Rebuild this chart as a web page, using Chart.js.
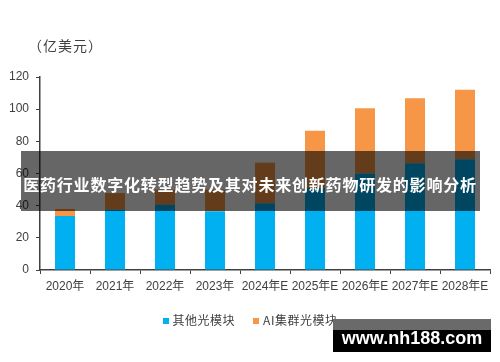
<!DOCTYPE html>
<html>
<head>
<meta charset="utf-8">
<script src="https://cdn.jsdelivr.net/npm/chart.js@4/dist/chart.umd.min.js"></script>
<style>
  html, body { margin: 0; padding: 0; background: #fff; }
  #wrap { position: relative; width: 500px; height: 362px; overflow: hidden; }
  canvas { position: absolute; left: 0; top: 0; }
  .unit { position: absolute; left: 28px; top: 35px; font: 14px "Noto Sans CJK SC", sans-serif; color: #404040; letter-spacing: 1px; }
  .legend { position: absolute; left: 0; width: 500px; top: 311px; text-align: center; font: 12px "Noto Sans CJK SC", "Liberation Sans", sans-serif; color: #404040; white-space: nowrap; letter-spacing: 0.5px; }
  .legend span.sw { display: inline-block; width: 6px; height: 6px; margin-right: 4px; vertical-align: 1px; }
  .legend span.item { margin: 0 9px; }
  .overlay { position: absolute; left: 21px; top: 151px; width: 459px; height: 60px; background: rgba(0,0,0,0.6); }
  .title { position: absolute; left: 0; top: 173px; width: 500px; text-align: center; font: bold 16px "Noto Sans CJK SC", sans-serif; color: #fff; letter-spacing: 0.8px; line-height: 22px; white-space: nowrap; }
  .wm1 { position: absolute; left: 333px; top: 319px; width: 158px; height: 11px; background: #6a6a6a; }
  .wm2 { position: absolute; left: 333px; top: 330px; width: 158px; height: 22px; background: #000; }
  .wmt { position: absolute; left: 333px; top: 326px; width: 158px; text-align: center; font: bold 18px "Liberation Sans", "DejaVu Sans", sans-serif; color: #fff; line-height: 24px; }
</style>
</head>
<body>
<div id="wrap">
  <canvas id="c" width="500" height="362"></canvas>
  <div class="unit">（亿美元）</div>
  <div class="legend"><span class="item"><span class="sw" style="background:#00B0F0"></span>其他光模块</span><span class="item"><span class="sw" style="background:#F79646"></span>AI集群光模块</span></div>
  <div class="overlay"></div>
  <div class="title">医药行业数字化转型趋势及其对未来创新药物研发的影响分析</div>
  <div class="wm1"></div>
  <div class="wm2"></div>
  <div class="wmt">www.nh188.com</div>
</div>
<script>
const categories = ["2020年", "2021年", "2022年", "2023年", "2024年E", "2025年E", "2026年E", "2027年E", "2028年E"];
const otherModules = [33.5, 37.5, 40.5, 36.5, 41.5, 51, 60, 66.3, 68.8];
const aiClusterModules = [4.4, 10.3, 9.4, 13.5, 25.2, 35.6, 40.5, 40.5, 43.2];
const seriesNames = ["其他光模块", "AI集群光模块"];
const yTicks = [0, 20, 40, 60, 80, 100, 120];

new Chart(document.getElementById('c'), {
  type: 'bar',
  data: {
    labels: categories,
    datasets: [
      { label: seriesNames[0], data: otherModules, backgroundColor: '#00B0F0', categoryPercentage: 1, barPercentage: 0.4 },
      { label: seriesNames[1], data: aiClusterModules, backgroundColor: '#F79646', categoryPercentage: 1, barPercentage: 0.4 }
    ]
  },
  options: {
    responsive: false,
    animation: false,
    layout: { padding: { top: 77, right: 10, left: 0, bottom: 0 } },
    plugins: { legend: { display: false }, tooltip: { enabled: false } },
    scales: {
      x: {
        stacked: true,
        afterFit: s => { s.height = 92; },
        border: { color: '#404040', width: 1.5 },
        grid: { display: true, drawOnChartArea: false, drawTicks: true, tickLength: 4, color: '#404040', offset: true },
        ticks: { color: '#404040', font: { size: 12, family: '"Liberation Sans", "Noto Sans CJK SC", sans-serif' }, padding: 5, maxRotation: 0, autoSkip: false }
      },
      y: {
        stacked: true,
        min: 0, max: 120,
        afterFit: s => { s.width = 40; },
        afterBuildTicks: s => { s.ticks = yTicks.map(v => ({ value: v })); },
        border: { color: '#404040', width: 1.5 },
        grid: { display: true, drawOnChartArea: false, drawTicks: true, tickLength: 4, color: '#404040' },
        ticks: { color: '#404040', font: { size: 12, family: '"Liberation Sans", sans-serif' }, padding: 7 }
      }
    }
  }
});
</script>
</body>
</html>
